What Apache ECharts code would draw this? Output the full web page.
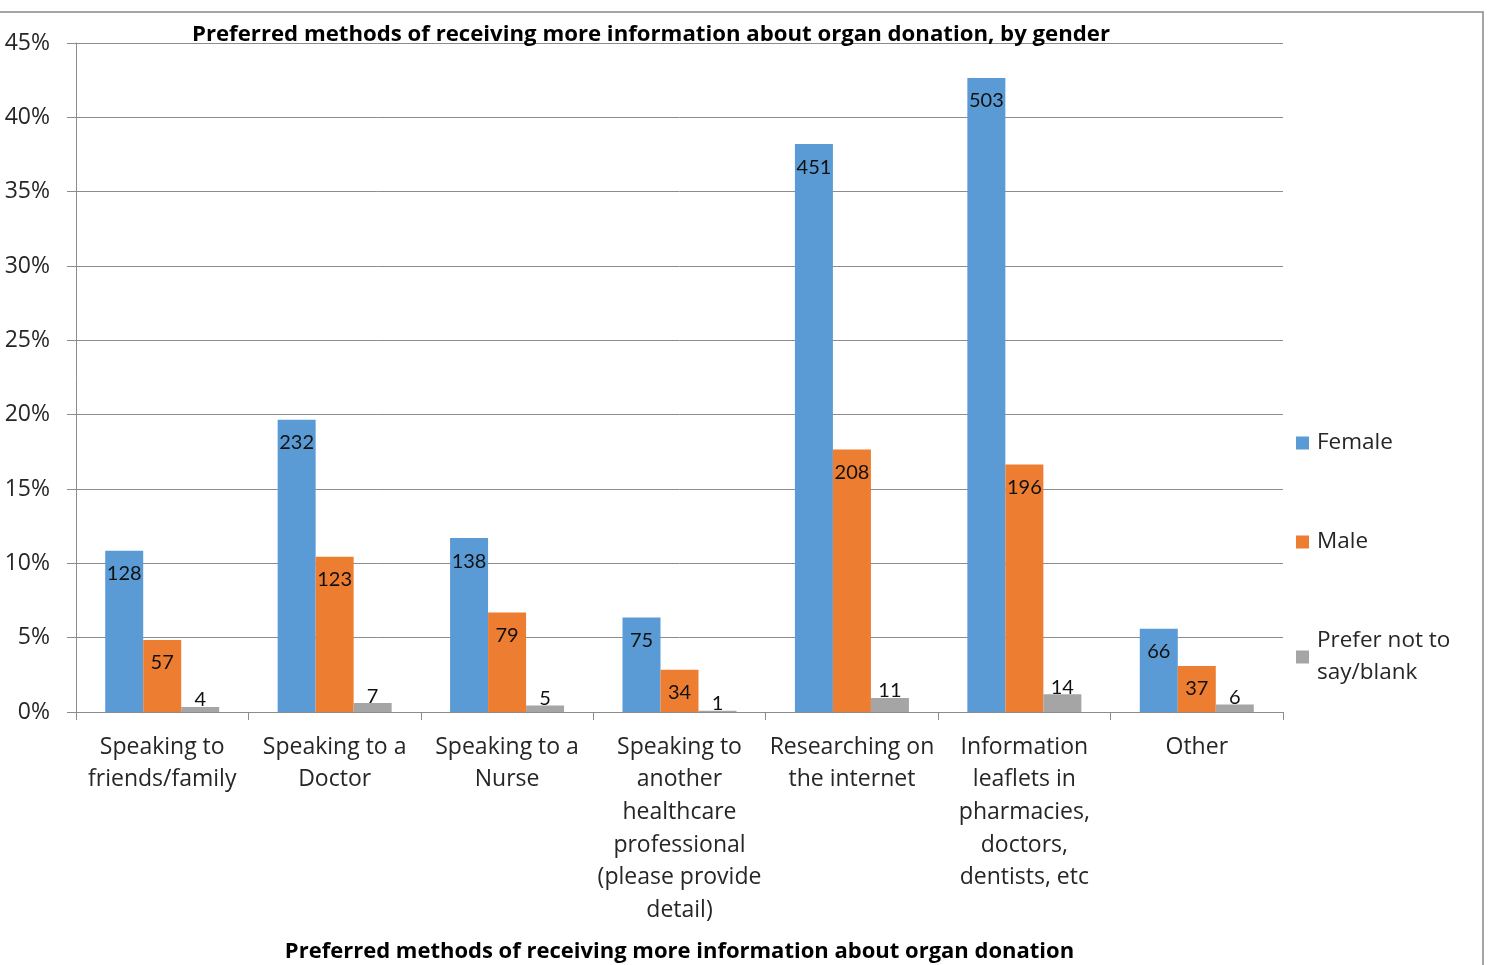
<!DOCTYPE html>
<html>
<head>
<meta charset="utf-8">
<script src="https://cdn.jsdelivr.net/npm/echarts@6/dist/echarts.min.js"></script>
<style>
html,body{margin:0;padding:0;background:#fff;}
#chart{width:1490px;height:965px;}
</style>
</head>
<body>
<div id="chart"></div>
<script>
// Categories (line breaks as shown in the reference)
const categories = [
  "Speaking to\nfriends/family",
  "Speaking to a\nDoctor",
  "Speaking to a\nNurse",
  "Speaking to\nanother\nhealthcare\nprofessional\n(please provide\ndetail)",
  "Researching on\nthe internet",
  "Information\nleaflets in\npharmacies,\ndoctors,\ndentists, etc",
  "Other"
];
const seriesNames = ["Female", "Male", "Prefer not to\nsay/blank"];
// Bar heights (% of respondents)
const femalePct = [10.85, 19.65, 11.7, 6.35, 38.2, 42.65, 5.6];
const malePct   = [4.85, 10.45, 6.7, 2.85, 17.65, 16.65, 3.1];
const preferPct = [0.34, 0.6, 0.43, 0.09, 0.94, 1.19, 0.51];
// Data labels (counts)
const femaleCount = [128, 232, 138, 75, 451, 503, 66];
const maleCount   = [57, 123, 79, 34, 208, 196, 37];
const preferCount = [4, 7, 5, 1, 11, 14, 6];
// Y axis ticks
const yMin = 0, yMax = 45, yStep = 5;

const titleText = "Preferred methods of receiving more information about organ donation, by gender";
const xAxisTitle = "Preferred methods of receiving more information about organ donation";

const colors = ["#5B9BD5", "#ED7D31", "#A5A5A5"];
const axisFont = "'Open Sans', 'Noto Sans', sans-serif";
const labelFont = "Lato, 'Open Sans', sans-serif";
const titleFont = "'Open Sans', 'Noto Sans', sans-serif";

function barSeries(idx, values, counts, pos) {
  return {
    name: seriesNames[idx],
    type: 'bar',
    data: values,
    barWidth: 38,
    barGap: '0%',
    itemStyle: { color: colors[idx] },
    label: {
      show: true,
      position: pos,
      distance: pos === 'top' ? -3 : 13,
      fontFamily: labelFont,
      fontSize: 20,
      lineHeight: 20,
      color: '#111',
      formatter: p => String(counts[p.dataIndex])
    }
  };
}

const chart = echarts.init(document.getElementById('chart'), null, {renderer: 'canvas'});
const legendCommon = {
  orient: 'vertical',
  left: 1291,
  itemWidth: 13,
  itemHeight: 13,
  itemGap: 0,
  icon: 'rect',
  textStyle: { fontFamily: axisFont, fontSize: 22.5, color: '#262626', lineHeight: 32, padding: [0, 0, 0, 3] }
};
chart.setOption({
  animation: false,
  backgroundColor: '#fff',
  color: colors,
  title: {
    text: titleText,
    left: 187,
    top: 19,
    textStyle: { fontFamily: titleFont, fontWeight: 'bold', fontSize: 22.2, color: '#000' }
  },
  legend: [
    Object.assign({}, legendCommon, { top: 422, data: [seriesNames[0]] }),
    Object.assign({}, legendCommon, { top: 521, data: [seriesNames[1]] }),
    Object.assign({}, legendCommon, { top: 620, data: [seriesNames[2]] })
  ],
  grid: { left: 76, right: 207, top: 43, bottom: 253, containLabel: false, outerBoundsMode: 'none' },
  xAxis: {
    type: 'category',
    data: categories,
    name: xAxisTitle,
    nameLocation: 'middle',
    nameGap: 229,
    nameTextStyle: { fontFamily: titleFont, fontWeight: 'bold', fontSize: 22, color: '#000' },
    axisLine: { lineStyle: { color: '#8c8c8c', width: 1 } },
    axisTick: { show: true, length: 8, lineStyle: { color: '#8c8c8c' } },
    axisLabel: {
      interval: 0,
      margin: 19,
      fontFamily: axisFont,
      fontSize: 23,
      lineHeight: 32.6,
      color: '#262626',
      align: 'center',
      verticalAlign: 'top'
    }
  },
  yAxis: {
    type: 'value',
    min: yMin,
    max: yMax,
    interval: yStep,
    axisLine: { show: true, lineStyle: { color: '#8c8c8c' } },
    axisTick: { show: true, length: 9, lineStyle: { color: '#8c8c8c' } },
    splitLine: { lineStyle: { color: '#8c8c8c', width: 1 } },
    axisLabel: {
      formatter: '{value}%',
      margin: 26,
      fontFamily: axisFont,
      fontSize: 23,
      color: '#262626'
    }
  },
  graphic: [{
    type: 'rect',
    shape: { x: -2, y: 12, width: 1485, height: 970 },
    style: { fill: 'none', stroke: '#888', lineWidth: 1.5 },
    silent: true,
    z: 100
  }],
  series: [
    barSeries(0, femalePct, femaleCount, 'insideTop'),
    barSeries(1, malePct, maleCount, 'insideTop'),
    barSeries(2, preferPct, preferCount, 'top')
  ]
});
</script>
</body>
</html>
